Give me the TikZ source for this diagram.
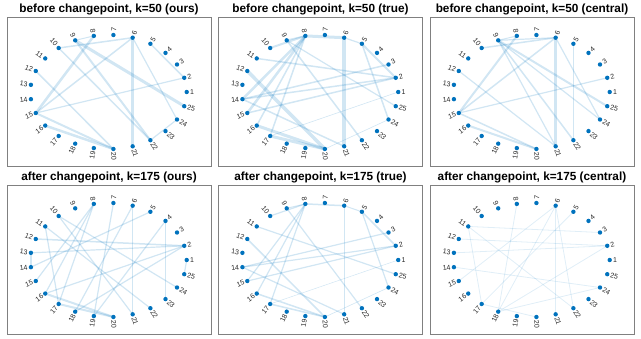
\documentclass[tikz,border=0pt]{standalone}
\usepackage{fontspec}
\setmainfont{Liberation Sans}
\usetikzlibrary{calc}
\definecolor{mblue}{RGB}{0,114,189}

\begin{document}
\begin{tikzpicture}[x=1pt, y=-1pt,
  frame/.style={draw=black!50, line width=0.6pt},
  ttl/.style={font=\fontsize{11.8}{13}\selectfont\bfseries, text=black, inner sep=0pt},
  vtx/.style={circle, fill=mblue, inner sep=0pt, minimum size=4.4pt},
  num/.style={font=\fontsize{7}{8}\selectfont, text=black!85, inner sep=0pt},
  link/.style={draw=mblue, draw opacity=0.18, line width=#1pt},
  faint/.style={draw=mblue, draw opacity=0.12, line width=#1pt}]
\useasboundingbox (0,0) rectangle (641,338);

% frames, titles and node places of the six panels
\foreach \p/\c/\r/\t in {a/0/0/{before changepoint, k=50 (ours)},
                         b/1/0/{before changepoint, k=50 (true)},
                         c/2/0/{before changepoint, k=50 (central)},
                         d/0/1/{after changepoint, k=175 (ours)},
                         e/1/1/{after changepoint, k=175 (true)},
                         f/2/1/{after changepoint, k=175 (central)}} {
  \pgfmathsetmacro\cx{108.5+211.5*\c}
  \pgfmathsetmacro\cy{92+168*\r}
  \draw[frame] ({7+211.5*\c},{17+168*\r}) rectangle ++(204,149);
  \node[ttl] (\p-title) at ({109+211.5*\c},{9+168*\r}) {\t};
  \foreach \k in {1,...,25} {
    \pgfmathsetmacro\ang{(\k-1)*14.4}
    \coordinate (\p-\k) at ({\cx+78.2*cos(\ang)},{\cy-57.1*sin(\ang)});
  }
}

% edges
\foreach \i/\j/\w in {6/21/3.5, 9/25/3, 9/22/2, 10/22/1.5, 10/6/1.5, 15/6/1.5,
    15/8/2.5, 15/2/1.2, 15/20/2, 16/20/2.5, 12/20/1.5, 5/2/1.5, 6/24/1.2,
    22/24/1.2, 8/9/1}
  \draw[link=\w] (a-\i) -- (a-\j);
\foreach \i/\j/\w in {6/21/4, 8/6/3, 10/8/2, 9/8/1.5, 9/22/1.5, 12/20/3.5,
    14/2/1.5, 14/3/1.5, 14/8/2.5, 15/8/2.5, 16/8/1.5, 17/8/1.5, 15/2/1.5,
    14/21/1.5, 16/20/3, 17/20/3, 11/2/1.5, 5/2/2, 5/24/1.5, 6/5/1.2,
    9/25/1.2, 1/17/0.6, 24/20/0.6}
  \draw[link=\w] (b-\i) -- (b-\j);
\foreach \i/\j/\w in {6/21/3, 6/24/1.2, 10/6/1.5, 9/6/1.2, 8/9/1, 9/25/2,
    9/24/1.2, 9/22/1.5, 9/21/1.2, 15/6/1.5, 15/8/2, 15/2/1.2, 15/20/1.5,
    16/20/2, 12/21/1.2, 5/22/1.2}
  \draw[link=\w] (c-\i) -- (c-\j);
\foreach \i/\j/\w in {6/21/1.2, 6/18/1.2, 7/19/1.2, 8/17/1.2, 8/16/1.2,
    10/21/1.2, 10/24/1.2, 11/17/1.2, 11/22/1.2, 12/2/1.5, 13/2/1.2, 13/14/2,
    14/5/1.2, 15/8/1.2, 16/2/1.2, 16/20/2, 17/20/2, 19/4/1.2, 18/2/1.2,
    4/23/1.2, 1/25/1.2}
  \draw[link=\w] (d-\i) -- (d-\j);
\foreach \i/\j/\w in {6/21/1.2, 8/6/1.5, 10/8/1.2, 9/8/1, 8/15/1.2, 8/16/1.2,
    8/17/1.2, 9/22/1.2, 11/25/1.2, 12/20/1.5, 14/2/1.2, 14/3/1.2, 14/21/1.2,
    15/2/1.2, 16/20/1.5, 17/20/1.5, 5/2/1.5, 5/24/1.2, 6/5/1, 1/17/0.5,
    24/20/0.6}
  \draw[link=\w] (e-\i) -- (e-\j);
\foreach \i/\j/\w in {8/18/0.8, 6/21/0.8, 6/18/0.8, 5/17/0.8, 6/22/0.8,
    11/3/0.8, 11/17/0.8, 11/22/0.8, 12/2/0.8, 13/2/0.8, 14/24/0.8, 15/6/0.8,
    18/2/0.8, 18/24/0.8, 17/20/0.8}
  \draw[faint=\w] (f-\i) -- (f-\j);

% dots and numbers
\foreach \p in {a,b,c,d,e,f} {
  \foreach \k in {1,...,25} {
    \pgfmathsetmacro\ang{(\k-1)*14.4}
    \pgfmathtruncatemacro\isright{(\ang<90)||(\ang>270)}
    \ifnum\isright=1
      \def\anc{west}\let\rot\ang
    \else
      \def\anc{east}\pgfmathsetmacro\rot{\ang-180}
    \fi
    \node[vtx] (\p-\k-dot) at (\p-\k) {};
    \node[num, anchor=\anc, rotate=\rot] (\p-\k-lab)
      at ($(\p-\k)+({3.2*cos(\ang)},{-3.2*sin(\ang)})$) {\k};
  }
}
\end{tikzpicture}
\end{document}
